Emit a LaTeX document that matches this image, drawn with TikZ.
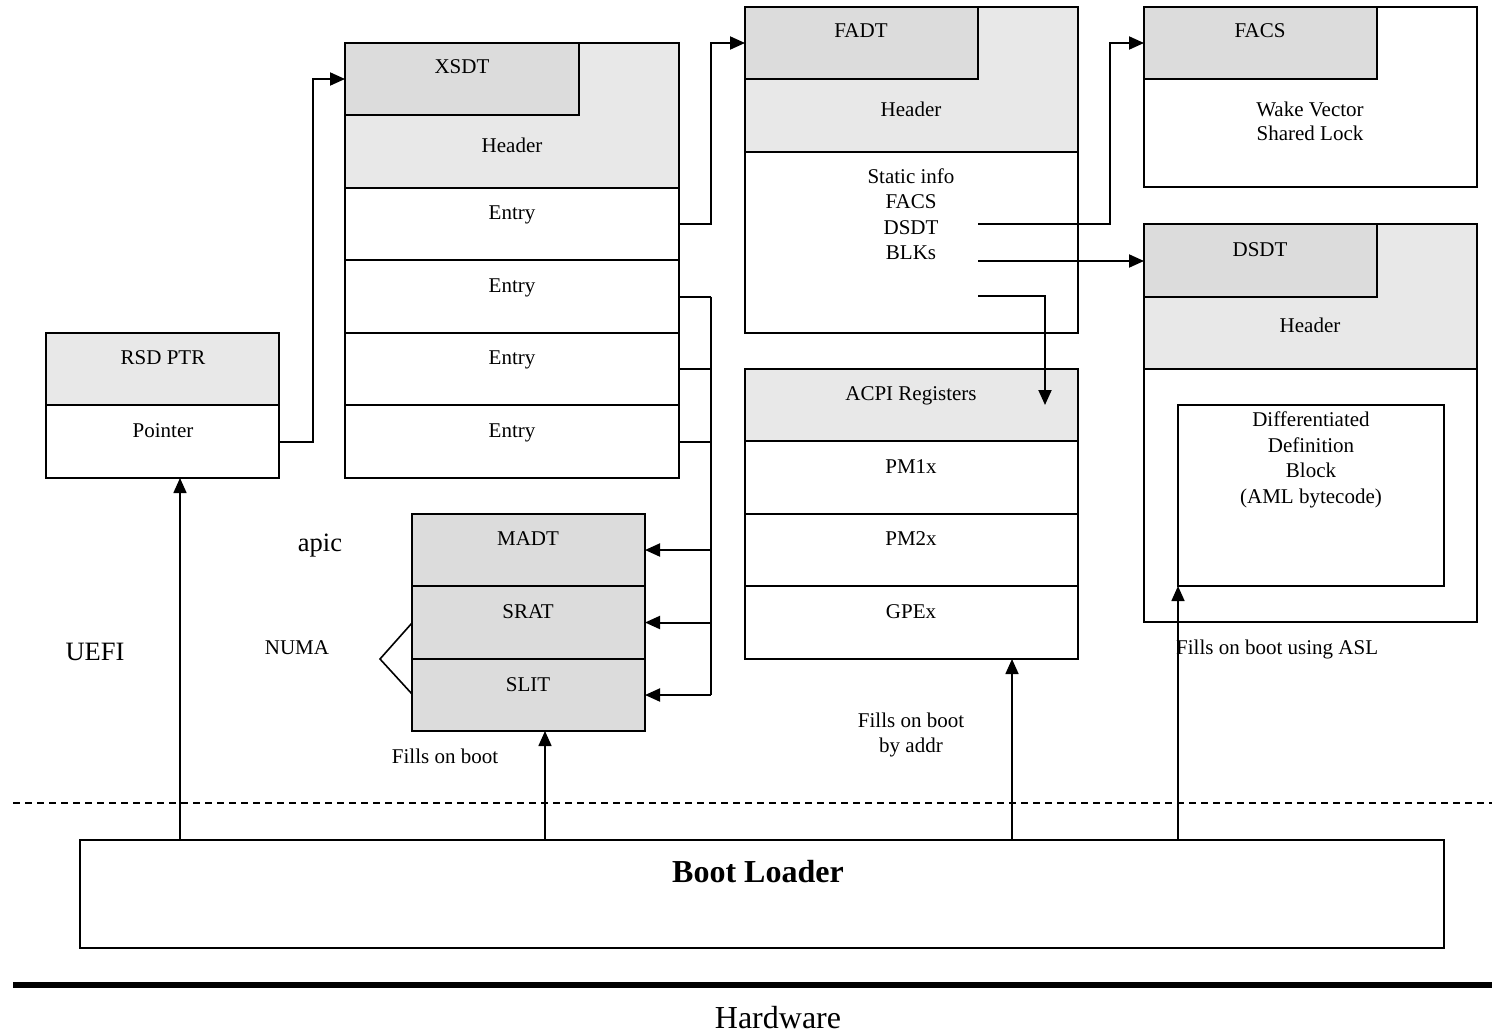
\documentclass[tikz,border=0pt]{standalone}
\usepackage{fontspec}
\setmainfont{Liberation Serif}
\usetikzlibrary{arrows.meta}
\definecolor{hdr}{HTML}{E8E8E8}
\definecolor{ttl}{HTML}{DCDCDC}
\newcommand\fsn{\fontsize{21}{25}\selectfont}
\newcommand\fsl{\fontsize{26.5}{30}\selectfont}
\newcommand\fsh{\fontsize{32}{36}\selectfont}
\begin{document}
\begin{tikzpicture}[x=1pt,y=-1pt,
  cell/.style={draw, line width=2pt, anchor=north west, inner sep=0pt, outer sep=0pt},
  lbl/.style={anchor=base, inner sep=0pt, font=\fsn},
  conn/.style={line width=2pt},
  arr/.style={line width=2pt, -{Triangle[length=15pt,width=13pt]}},
  arrb/.style={line width=1.6pt, -{Triangle[length=15pt,width=13pt]}}]
\useasboundingbox (0,0) rectangle (1492,1033);
% RSD PTR
\node[cell, fill=hdr, minimum width=233pt, minimum height=72pt] (rsdh) at (46,333) {};
\node[cell, fill=white, minimum width=233pt, minimum height=73pt] (rsdp) at (46,405) {};
% XSDT
\node[cell, fill=hdr, minimum width=334pt, minimum height=145pt] (xsdth) at (345,43) {};
\node[cell, fill=ttl, minimum width=234pt, minimum height=72pt] (xsdtt) at (345,43) {};
\node[cell, fill=white, minimum width=334pt, minimum height=72pt] (xe1) at (345,188) {};
\node[cell, fill=white, minimum width=334pt, minimum height=73pt] (xe2) at (345,260) {};
\node[cell, fill=white, minimum width=334pt, minimum height=72pt] (xe3) at (345,333) {};
\node[cell, fill=white, minimum width=334pt, minimum height=73pt] (xe4) at (345,405) {};
% FADT
\node[cell, fill=hdr, minimum width=333pt, minimum height=145pt] (fadth) at (745,7) {};
\node[cell, fill=ttl, minimum width=233pt, minimum height=72pt] (fadtt) at (745,7) {};
\node[cell, fill=white, minimum width=333pt, minimum height=181pt] (fadtb) at (745,152) {};
% FACS
\node[cell, fill=white, minimum width=333pt, minimum height=180pt] (facs) at (1144,7) {};
\node[cell, fill=ttl, minimum width=233pt, minimum height=72pt] (facst) at (1144,7) {};
% DSDT
\node[cell, fill=hdr, minimum width=333pt, minimum height=145pt] (dsdth) at (1144,224) {};
\node[cell, fill=ttl, minimum width=233pt, minimum height=73pt] (dsdtt) at (1144,224) {};
\node[cell, fill=white, minimum width=333pt, minimum height=253pt] (dsdtb) at (1144,369) {};
\node[cell, fill=white, minimum width=266pt, minimum height=181pt] (ddb) at (1178,405) {};
% ACPI registers
\node[cell, fill=hdr, minimum width=333pt, minimum height=72pt] (acpih) at (745,369) {};
\node[cell, fill=white, minimum width=333pt, minimum height=73pt] (pm1) at (745,441) {};
\node[cell, fill=white, minimum width=333pt, minimum height=72pt] (pm2) at (745,514) {};
\node[cell, fill=white, minimum width=333pt, minimum height=73pt] (gpe) at (745,586) {};
% MADT stack
\node[cell, fill=ttl, minimum width=233pt, minimum height=72pt] (madt) at (412,514) {};
\node[cell, fill=ttl, minimum width=233pt, minimum height=73pt] (srat) at (412,586) {};
\node[cell, fill=ttl, minimum width=233pt, minimum height=72pt] (slit) at (412,659) {};
% Boot loader
\node[cell, fill=white, minimum width=1364pt, minimum height=108pt] (boot) at (80,840) {};

% texts
\node[lbl] (t1) at (163,364) {RSD PTR};
\node[lbl] (t2) at (163,437) {Pointer};
\node[lbl] (t3) at (462,74) {XSDT};
\node[lbl] (t4) at (512,152) {Header};
\node[lbl] (t5) at (512,219) {Entry};
\node[lbl] (t6) at (512,292) {Entry};
\node[lbl] (t7) at (512,364) {Entry};
\node[lbl] (t8) at (512,437) {Entry};
\node[lbl] (t9) at (861,38) {FADT};
\node[lbl] (t10) at (911,116) {Header};
\node[lbl] (t11) at (911,183) {Static info};
\node[lbl] (t12) at (911,208) {FACS};
\node[lbl] (t13) at (911,234) {DSDT};
\node[lbl] (t14) at (911,259) {BLKs};
\node[lbl] (t15) at (1260,38) {FACS};
\node[lbl] (t16) at (1310,116) {Wake Vector};
\node[lbl] (t17) at (1310,140) {Shared Lock};
\node[lbl] (t18) at (1260,256) {DSDT};
\node[lbl] (t19) at (1310,332) {Header};
\node[lbl] (t20) at (1311,426) {Differentiated};
\node[lbl] (t21) at (1311,452) {Definition};
\node[lbl] (t22) at (1311,477) {Block};
\node[lbl] (t23) at (1311,503) {(AML bytecode)};
\node[lbl] (t24) at (911,400) {ACPI Registers};
\node[lbl] (t25) at (911,473) {PM1x};
\node[lbl] (t26) at (911,545) {PM2x};
\node[lbl] (t27) at (911,618) {GPEx};
\node[lbl] (t28) at (528,545) {MADT};
\node[lbl] (t29) at (528,618) {SRAT};
\node[lbl] (t30) at (528,691) {SLIT};
\node[lbl] (t31) at (297,654) {NUMA};
\node[lbl, font=\fsl] (t32) at (320,551) {apic};
\node[lbl, font=\fsl] (t33) at (95,660) {UEFI};
\node[lbl] (t34) at (445,763) {Fills on boot};
\node[lbl] (t35) at (911,727) {Fills on boot};
\node[lbl] (t36) at (911,752) {by addr};
\node[lbl, anchor=base west] (t37) at (1176,654) {Fills on boot using ASL};
\node[lbl, font=\fsh\bfseries] (t38) at (758,882) {Boot Loader};
\node[lbl, font=\fsh] (t39) at (778,1028) {Hardware};

% connectors
\draw[arr] (rsdp.east) -- ++(34,0) |- (xsdtt.west);
\draw[arr] (xe1.east) -- ++(32,0) |- (fadtt.west);
\draw[conn] (xe2.east) -- ++(32,0) coordinate (j2);
\draw[conn] (xe3.east) -- ++(32,0);
\draw[conn] (xe4.east) -- ++(32,0);
\draw[conn] (j2) -- (j2 |- slit.east);
\draw[arr] (j2 |- madt.east) -- (madt.east);
\draw[arr] (j2 |- srat.east) -- (srat.east);
\draw[arr] (j2 |- slit.east) -- (slit.east);
\coordinate (f1) at (978,224);
\coordinate (f2) at (978,261);
\coordinate (f3) at (978,296);
\coordinate (acpiin) at (1045,405);
\draw[arr] (f1) -- ++(132,0) |- (facst.west);
\draw[arr] (f2) -- (f2 -| dsdtt.west);
\draw[arr] (f3) -| (acpiin);
% NUMA bracket
\coordinate (nb1) at (412,623);
\coordinate (nb2) at (380,659);
\coordinate (nb3) at (412,694);
\draw[line width=1.6pt] (nb1) -- (nb2) -- (nb3);
% boot loader arrows
\coordinate (b1) at (180,840);
\coordinate (b2) at (545,840);
\coordinate (b3) at (1012,840);
\coordinate (b4) at (1178,840);
\draw[arrb] (b1) -- (b1 |- rsdp.south);
\draw[arrb] (b2) -- (b2 |- slit.south);
\draw[arrb] (b3) -- (b3 |- gpe.south);
\draw[arrb] (b4) -- (ddb.south west);
% separators
\coordinate (d1) at (13,803);
\coordinate (d2) at (1492,803);
\draw[line width=1.3pt, dash pattern=on 7pt off 5pt] (d1) -- (d2);
\coordinate (h1) at (13,985);
\coordinate (h2) at (1492,985);
\draw[line width=6pt] (h1) -- (h2);
\end{tikzpicture}
\end{document}
